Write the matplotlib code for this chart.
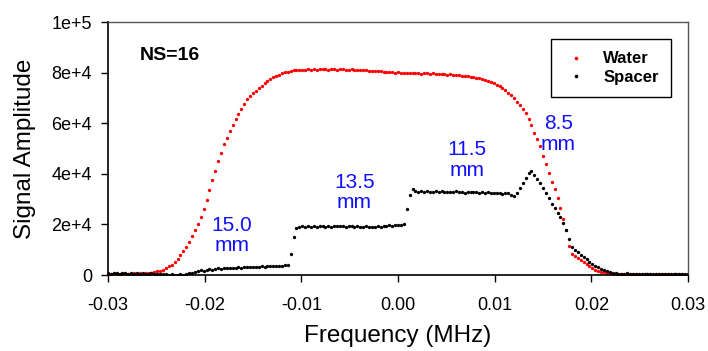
import numpy as np
import matplotlib
matplotlib.use('Agg')
import matplotlib.pyplot as plt

plt.rcParams['font.family'] = ['Liberation Sans', 'DejaVu Sans']

# frequency grid (MHz), 201 samples from -0.03 to 0.03
freq = np.linspace(-0.03, 0.03, 201)

water = [
    500, 400, 600, 500, 400, 500, 600, 400, 500, 600,
    500, 600, 500, 700, 800, 900, 1100, 1400, 1700, 2100,
    2900, 3400, 3800, 5000, 6300, 7800, 9400, 11200, 13200, 15300,
    17600, 20000, 22800, 26000, 29600, 33500, 37500, 41300, 44900, 48200,
    51700, 54300, 56800, 59300, 61700, 63800, 65700, 67500, 69500, 70700,
    71900, 72900, 73900, 74900, 75800, 76600, 77400, 78100, 78700, 79200,
    79700, 80100, 80400, 80600, 80900, 81000, 80900, 81100, 81200, 81300,
    81200, 81400, 81200, 81300, 81500, 81300, 81200, 81400, 81300, 81200,
    81300, 81400, 81200, 81100, 81300, 81200, 81000, 81100, 80900, 81000,
    80800, 80700, 80800, 80500, 80600, 80300, 80400, 80100, 80200, 80000,
    80100, 79900, 80000, 79800, 80000, 79700, 79900, 79800, 79600, 79800,
    79700, 79500, 79700, 79400, 79600, 79300, 79500, 79200, 79300, 79100,
    79000, 78900, 78800, 78600, 78500, 78300, 78100, 77900, 77700, 77400,
    77100, 76700, 76300, 75800, 75200, 74600, 73900, 73100, 72100, 71000,
    69800, 68500, 67100, 65700, 63900, 61800, 59300, 56300, 53800, 50800,
    47000, 44000, 40200, 36600, 34000, 30500, 26500, 22300, 17800, 11500,
    8200, 7400, 6600, 5900, 5200, 4500, 3700, 2900, 2000, 1500,
    1200, 1000, 800, 600, 500, 400, 400, 300, 400, 300,
    300, 400, 300, 200, 300, 400, 300, 300, 200, 300,
    300, 400, 300, 300, 200, 300, 400, 300, 300, 200, 300,
]

spacer = [
    600, 500, 700, 600, 500, 600, 700, 500, 600, 500,
    600, 500, 600, 400, 500, 600, 400, 500, 300, 400,
    300, 200, 300, 200, 100, 300, 200, 400, 600, 900,
    1200, 1600, 1900, 1700, 2100, 2300, 2100, 2400, 2600, 2400,
    2600, 2800, 2600, 2900, 2700, 3000, 2800, 3100, 3000, 3300,
    3100, 3300, 3200, 3400, 3300, 3500, 3400, 3600, 3500, 3700,
    3600, 3900, 4100, 8400, 15000, 18700, 19000, 19300, 19100, 19200,
    19000, 19300, 19100, 19400, 19200, 19000, 19300, 19100, 19200, 19500,
    19200, 19400, 19100, 19300, 19200, 19000, 19300, 19100, 18900, 19200,
    18800, 19000, 18900, 19300, 19100, 19500, 19300, 19700, 19500, 19800,
    19600, 19900, 20100, 26000, 31600, 33800, 33300, 33000, 33200, 32900,
    33100, 32800, 33000, 33200, 32900, 33100, 32800, 33000, 32700, 32900,
    33100, 32800, 32900, 32600, 32800, 33000, 32700, 32900, 32600, 32800,
    32500, 32700, 32500, 32300, 32600, 32400, 32200, 32500, 32300, 31500,
    31200, 32500, 34200, 36300, 38500, 40400, 41300, 39600, 38000, 36200,
    34300, 32500, 30300, 28200, 26400, 24600, 22800, 20600, 17800, 14400,
    11200, 10000, 9000, 8100, 7200, 6200, 5200, 4400, 3700, 3100,
    2500, 2000, 1600, 1200, 900, 700, 500, 500, 400, 600,
    400, 300, 500, 300, 400, 300, 500, 400, 300, 400,
    300, 400, 500, 300, 400, 300, 400, 500, 300, 400, 300,
]

xticks = [-0.03, -0.02, -0.01, 0.0, 0.01, 0.02, 0.03]
xlabels = ['-0.03', '-0.02', '-0.01', '0.00', '0.01', '0.02', '0.03']
yticks = [0, 20000, 40000, 60000, 80000, 100000]
ylabels = ['0', '2e+4', '4e+4', '6e+4', '8e+4', '1e+5']

# thickness labels: (text, x, y)
notes = [('15.0\nmm', -0.0172, 15600),
         ('13.5\nmm', -0.0045, 32600),
         ('11.5\nmm', 0.0071, 45500),
         ('8.5\nmm', 0.0166, 55700)]

fig = plt.figure(figsize=(7.08, 3.51), dpi=100)
ax = fig.add_axes([0.1525, 0.2165, 0.8193, 0.7208])

ax.plot(freq, water, ls='none', marker='o', ms=2.4, mew=0, color='#ff0000', label='Water')
ax.plot(freq, spacer, ls='none', marker='o', ms=2.4, mew=0, color='black', label='Spacer')

ax.set_xlim(-0.03, 0.03)
ax.set_ylim(0, 100000)
ax.set_xticks(xticks)
ax.set_xticklabels(xlabels)
ax.set_yticks(yticks)
ax.set_yticklabels(ylabels)
ax.tick_params(axis='both', direction='out', length=5, width=1, labelsize=13)
ax.tick_params(axis='x', pad=11)
ax.tick_params(axis='y', pad=6.5)

for s in ['left', 'bottom']:
    ax.spines[s].set_linewidth(1.2)
    ax.spines[s].set_color('black')
for s in ['top', 'right']:
    ax.spines[s].set_linewidth(1.0)
    ax.spines[s].set_color('#555555')

ax.set_xlabel('Frequency (MHz)', fontsize=17.5, labelpad=7.5)
ax.set_ylabel('Signal Amplitude', fontsize=17.5, labelpad=11)

ax.text(-0.0267, 86900, 'NS=16', fontsize=14, fontweight='bold', ha='left', va='center')

for txt, x, y in notes:
    ax.text(x, y, txt, color='#1010ff', fontsize=15, ha='center', va='center',
            linespacing=1.1)

leg = ax.legend(loc='upper right', bbox_to_anchor=(0.971, 0.933), borderaxespad=0,
                prop={'weight': 'bold', 'size': 12}, fancybox=False, framealpha=1,
                edgecolor='black', borderpad=0.75, handlelength=1.5, handletextpad=0.9,
                labelspacing=0.2, markerscale=1.1)
leg.get_frame().set_linewidth(1.0)

fig.savefig('out.png', dpi=100)
